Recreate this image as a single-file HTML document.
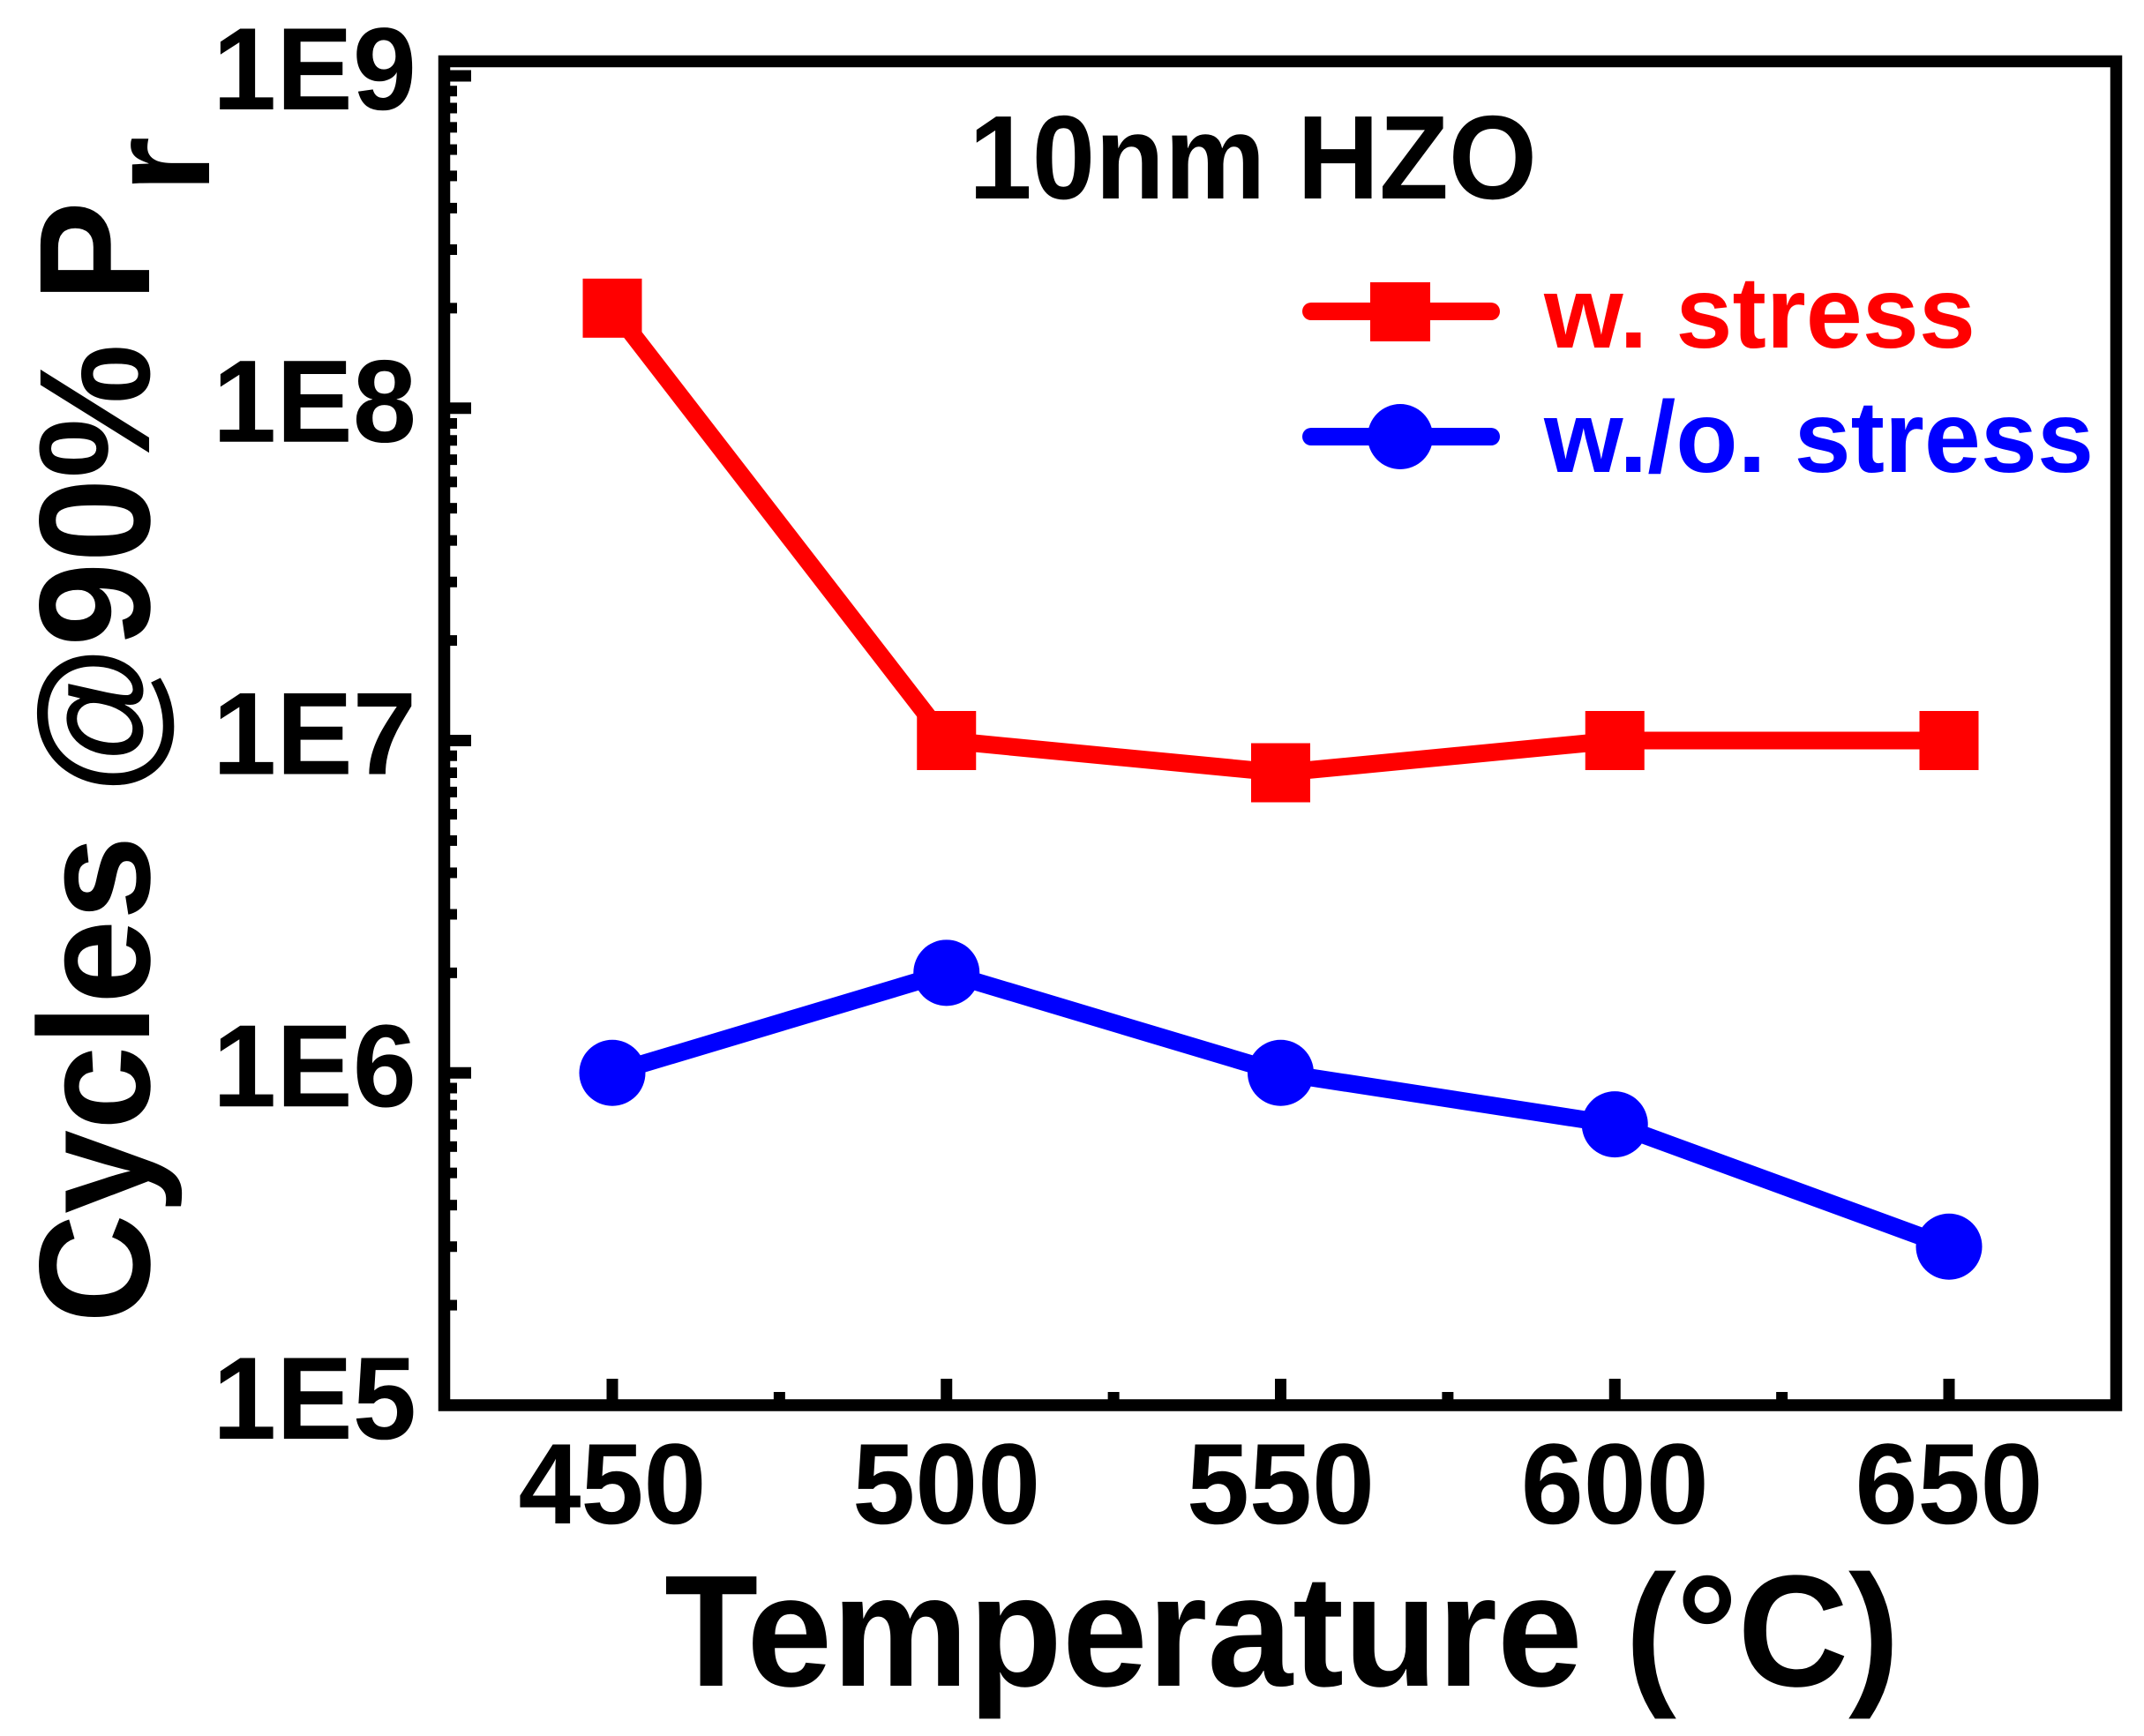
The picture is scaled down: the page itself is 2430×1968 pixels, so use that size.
<!DOCTYPE html>
<html lang="en">
<head>
<meta charset="utf-8">
<title>Cycles at 90% Pr vs Temperature</title>
<style>
html,body{margin:0;padding:0;background:#fff;}
svg{display:block;}
text{font-family:"Liberation Sans",Arial,sans-serif;font-weight:bold;}
</style>
</head>
<body>
<svg id="chart" xmlns="http://www.w3.org/2000/svg" width="2430" height="1968" viewBox="0 0 2430 1968">
  <rect x="0" y="0" width="2430" height="1968" fill="#fff"/>
  <g id="ticks"></g>
  <rect x="503.5" y="69.5" width="1895" height="1523.5" fill="none" stroke="#000" stroke-width="13.5"/>
  <g id="tick-labels"></g>
  <g id="series"></g>

  <text transform="translate(169,1500) rotate(-90)" font-size="179" textLength="1272" lengthAdjust="spacingAndGlyphs">Cycles @90% P</text>
  <text transform="translate(237,219) rotate(-90)" font-size="165">r</text>
  <text x="753" y="1911" font-size="180" textLength="1400" lengthAdjust="spacingAndGlyphs">Temperature (°C)</text>
  <text x="1098" y="225" font-size="135" textLength="644" lengthAdjust="spacingAndGlyphs">10nm HZO</text>

  <g>
    <g>
      <line x1="1486" y1="353" x2="1690" y2="353" stroke="#f00" stroke-width="20" stroke-linecap="round"/>
      <rect x="1553" y="320" width="68" height="67" fill="#f00"/>
      <text x="1750" y="394" font-size="115" fill="#f00" textLength="489" lengthAdjust="spacingAndGlyphs">w. stress</text>
    </g>
    <g>
      <line x1="1486" y1="495" x2="1690" y2="495" stroke="#00f" stroke-width="20" stroke-linecap="round"/>
      <circle cx="1587" cy="495" r="37" fill="#00f"/>
      <text x="1750" y="535" font-size="115" fill="#00f" textLength="623" lengthAdjust="spacingAndGlyphs">w./o. stress</text>
    </g>
  </g>
</svg>
<script>
const temperatures = [450, 500, 550, 600, 650];
const withStress = [2e8, 1e7, 8e6, 1e7, 1e7];
const withoutStress = [1e6, 2e6, 1e6, 7e5, 3e5];
const xTickValues = [450, 500, 550, 600, 650];
const xMinorTickValues = [475, 525, 575, 625];
const xTickLabels = ["450", "500", "550", "600", "650"];
const yTickValues = [1e5, 1e6, 1e7, 1e8, 1e9];
const yTickLabels = ["1E5", "1E6", "1E7", "1E8", "1E9"];
const yMinorMultipliers = [2, 3, 4, 5, 6, 7, 8, 9];

const NS = "http://www.w3.org/2000/svg";
function xScale(v) { return 694 + (v - 450) * 7.575; }
function yScale(v) { return 1593 - (Math.log10(v) - 5) * 376.75; }

function line(parent, x1, y1, x2, y2, color, width) {
  const el = document.createElementNS(NS, "line");
  el.setAttribute("x1", x1);
  el.setAttribute("y1", y1);
  el.setAttribute("x2", x2);
  el.setAttribute("y2", y2);
  el.setAttribute("stroke", color);
  el.setAttribute("stroke-width", width);
  parent.appendChild(el);
  return el;
}

const tickGroup = document.getElementById("ticks");
const labelGroup = document.getElementById("tick-labels");
const seriesGroup = document.getElementById("series");

xTickValues.forEach(function (v, i) {
  const t = line(tickGroup, xScale(v), 1593, xScale(v), 1563, "#000", 13);
  
  
  const lab = document.createElementNS(NS, "text");
  lab.setAttribute("x", xScale(v));
  lab.setAttribute("y", 1727);
  lab.setAttribute("font-size", 130);
  lab.setAttribute("text-anchor", "middle");
  lab.setAttribute("textLength", 213);
  lab.setAttribute("lengthAdjust", "spacingAndGlyphs");
  lab.textContent = xTickLabels[i];
  
  
  labelGroup.appendChild(lab);
});

xMinorTickValues.forEach(function (v) {
  const t = line(tickGroup, xScale(v), 1593, xScale(v), 1578, "#000", 13);
  
  
});

yTickValues.forEach(function (v, i) {
  const t = line(tickGroup, 503, yScale(v), 534, yScale(v), "#000", 13);
  
  
  const lab = document.createElementNS(NS, "text");
  lab.setAttribute("x", 472);
  lab.setAttribute("y", yScale(v) + 38);
  lab.setAttribute("font-size", 133);
  lab.setAttribute("text-anchor", "end");
  lab.setAttribute("textLength", 231);
  lab.setAttribute("lengthAdjust", "spacingAndGlyphs");
  lab.textContent = yTickLabels[i];
  
  
  labelGroup.appendChild(lab);
  if (i < yTickValues.length - 1) {
    yMinorMultipliers.forEach(function (m) {
      const mt = line(tickGroup, 503, yScale(v * m), 518, yScale(v * m), "#000", 12);
      
      
    });
  }
});

function pointsFor(values) {
  return values.map(function (v, i) {
    return xScale(temperatures[i]) + "," + yScale(v);
  }).join(" ");
}

const redLine = document.createElementNS(NS, "polyline");
redLine.setAttribute("points", pointsFor(withStress));
redLine.setAttribute("fill", "none");
redLine.setAttribute("stroke", "#f00");
redLine.setAttribute("stroke-width", 20);


seriesGroup.appendChild(redLine);

withStress.forEach(function (v, i) {
  const m = document.createElementNS(NS, "rect");
  m.setAttribute("x", xScale(temperatures[i]) - 33.5);
  m.setAttribute("y", yScale(v) - 33.5);
  m.setAttribute("width", 67);
  m.setAttribute("height", 67);
  m.setAttribute("fill", "#f00");
  
  
  seriesGroup.appendChild(m);
});

const blueLine = document.createElementNS(NS, "polyline");
blueLine.setAttribute("points", pointsFor(withoutStress));
blueLine.setAttribute("fill", "none");
blueLine.setAttribute("stroke", "#00f");
blueLine.setAttribute("stroke-width", 20);


seriesGroup.appendChild(blueLine);

withoutStress.forEach(function (v, i) {
  const m = document.createElementNS(NS, "circle");
  m.setAttribute("cx", xScale(temperatures[i]));
  m.setAttribute("cy", yScale(v));
  m.setAttribute("r", 37.5);
  m.setAttribute("fill", "#00f");
  
  
  seriesGroup.appendChild(m);
});
</script>
</body>
</html>
